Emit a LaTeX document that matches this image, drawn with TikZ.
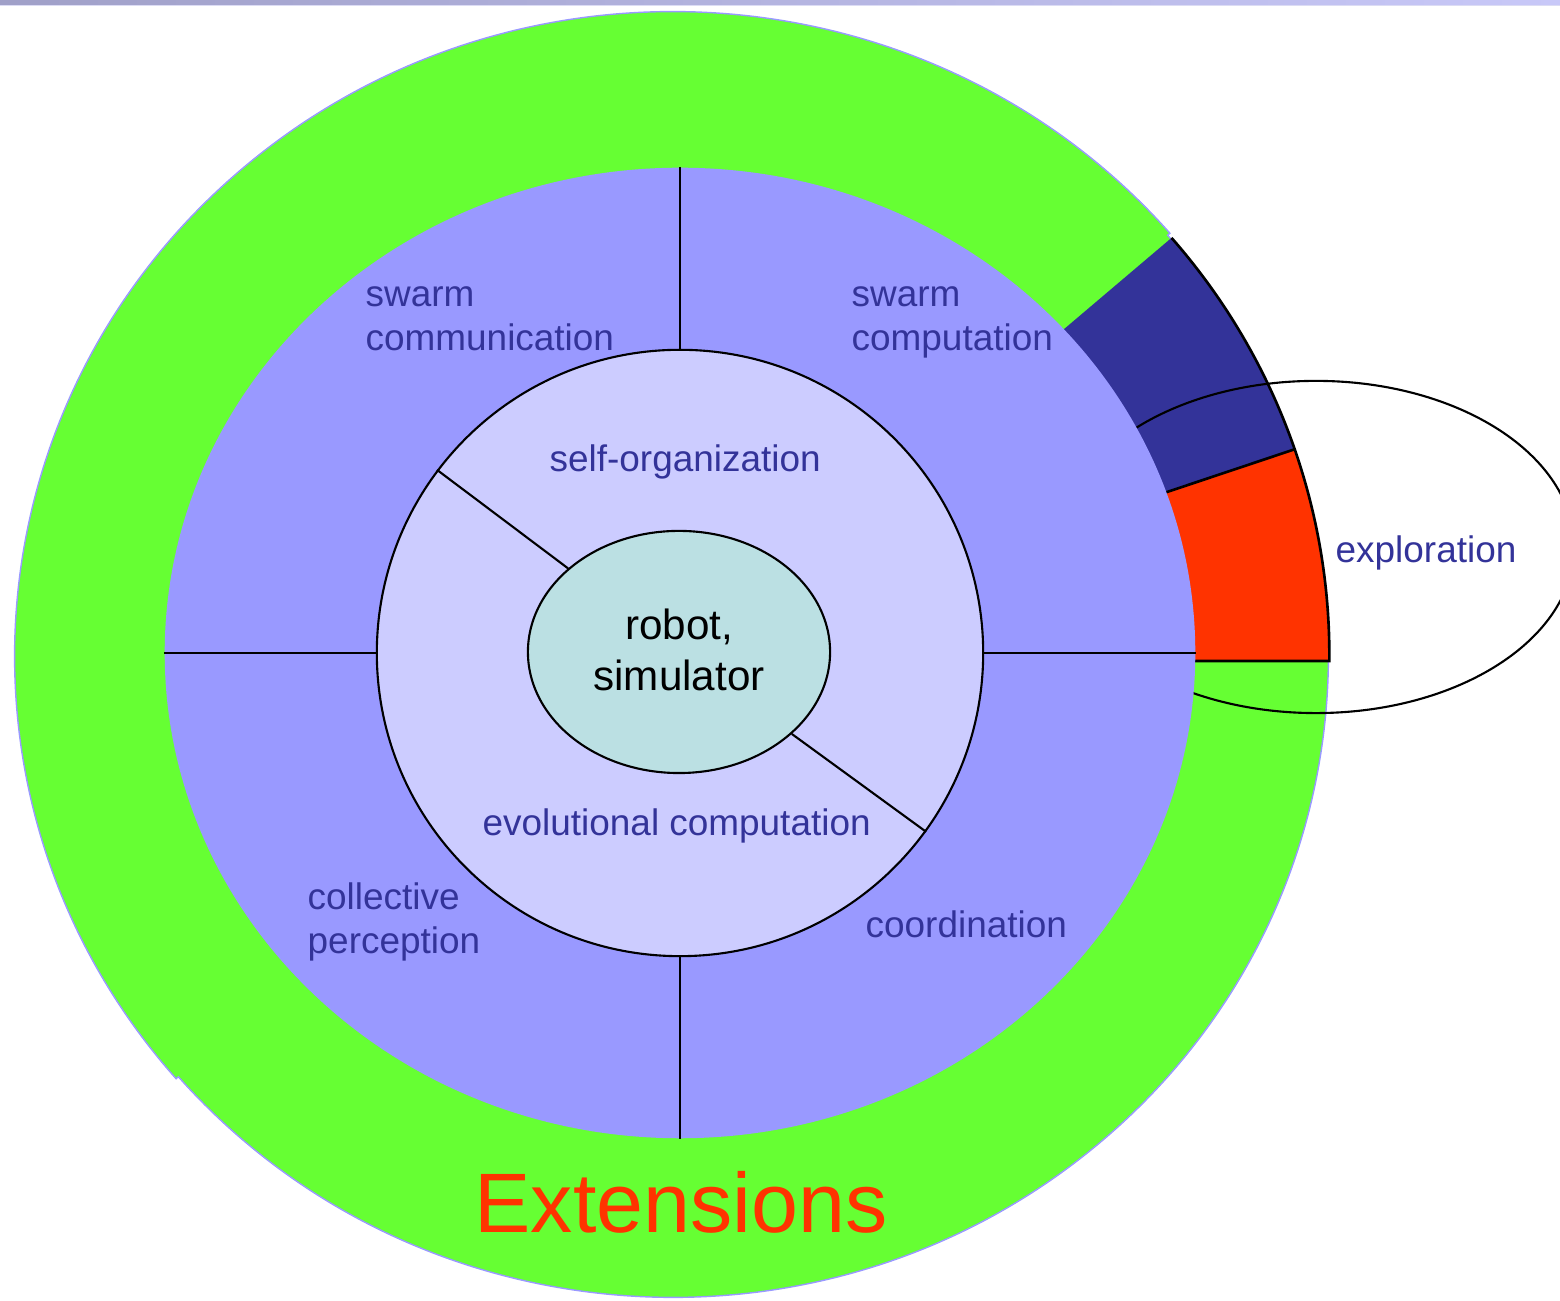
\documentclass[tikz,border=0pt]{standalone}
\usepackage{fontspec}
\setmainfont{Liberation Sans}
\usetikzlibrary{shapes.geometric,calc}
\definecolor{ringgreen}{HTML}{66FF33}
\definecolor{ringpurple}{HTML}{9999FF}
\definecolor{corelav}{HTML}{CCCCFF}
\definecolor{hubteal}{HTML}{BBE0E3}
\definecolor{navy}{HTML}{333399}
\definecolor{hot}{HTML}{FF3300}
\definecolor{barleft}{HTML}{A0A0C8}
\definecolor{barright}{HTML}{C8C8F8}
\definecolor{barline}{HTML}{DCDCF4}

\begin{document}
\begin{tikzpicture}[x=0.01cm, y=0.01cm,
  edge/.style={draw=black, line width=0.6pt},
  rim/.style={draw=black, line width=0.75pt},
  lbl/.style={text=navy, font=\fontsize{10.5}{12.5}\selectfont, inner sep=0pt, anchor=base west},
]
\useasboundingbox (0,0) rectangle (1560,1301);

% header bar
\shade[left color=barleft, right color=barright] (0,1296) rectangle (1560,1301);
\fill[barline] (0,1294.5) rectangle (1560,1296);

% outer green band (two arcs with a small step at lower left)
\coordinate (G) at (673,645);
\filldraw[fill=ringgreen, draw=ringpurple, line width=0.4pt]
  ($(G)+(41:6.58cm and 6.44cm)$) arc[start angle=41, end angle=221, x radius=6.58cm, y radius=6.44cm]
  -- ($(G)+(221:6.55cm and 6.41cm)$) arc[start angle=221, end angle=401, x radius=6.55cm, y radius=6.41cm]
  -- cycle;

% highlighted sectors on the right
\coordinate (S) at (680,646);
\coordinate (B) at (680,640);
\fill[navy] (S) -- ($(S)+(40.8:6.49cm and 6.38cm)$)
  arc[start angle=40.8, end angle=18.8, x radius=6.49cm, y radius=6.38cm] -- cycle;
\fill[hot] (S) -- ($(S)+(18.8:6.49cm and 6.38cm)$)
  arc[start angle=18.8, end angle=-0.54, x radius=6.49cm, y radius=6.38cm] -- (B) -- cycle;
\draw[rim] ($(S)+(40.8:6.49cm and 6.38cm)$)
  arc[start angle=40.8, end angle=-0.54, x radius=6.49cm, y radius=6.38cm] -- (B);
\draw[rim] (S) -- ($(S)+(18.8:6.49cm and 6.38cm)$);

% exploration bubble
\node[ellipse, draw, line width=0.6pt, minimum width=5.16cm, minimum height=3.32cm,
  inner sep=0pt] (expl) at (1316,754) {};

% middle ring
\node[ellipse, fill=ringpurple, minimum width=10.30cm, minimum height=9.70cm,
  inner sep=0pt] (ring) at (680,648) {};

% inner ring
\node[circle, fill=corelav, draw, line width=0.6pt, minimum size=6.06cm,
  inner sep=0pt] (core) at (680,648) {};

% dividers of the middle ring
\draw[edge] (ring.north) -- (core.north);
\draw[edge] (core.south) -- (ring.south);
\draw[edge] (ring.west) -- (core.west);
\draw[edge] (core.east) -- (ring.east);

% hub
\node[ellipse, fill=hubteal, draw, line width=0.6pt, minimum width=3.02cm,
  minimum height=2.42cm, inner sep=0pt,
  font=\fontsize{12}{14.3}\selectfont] (hub) at (679,649)
  {\raisebox{-0.03cm}[\height][\depth]{\begin{tabular}{@{}c@{}}robot,\\simulator\end{tabular}}};

% dividers of the inner ring
\draw[edge] (core.143.2) -- (hub.143.2);
\draw[edge] (core.-36.8) -- (hub.-36.8);

% labels
\node[lbl] (tcomm) at (365,994) {\begin{tabular}[t]{@{}l@{}}swarm\\communication\end{tabular}};
\node[lbl] (tcomp) at (851,994) {\begin{tabular}[t]{@{}l@{}}swarm\\computation\end{tabular}};
\node[lbl] (tself) at (549,829) {self-organization};
\node[lbl] (tevo) at (482,465) {evolutional computation};
\node[lbl] (tperc) at (307,391) {\begin{tabular}[t]{@{}l@{}}collective\\perception\end{tabular}};
\node[lbl] (tcoord) at (865,363) {coordination};
\node[lbl] (texpl) at (1335,738) {exploration};
\node[text=hot, font=\fontsize{24}{28}\selectfont, anchor=base, inner sep=0pt]
  (ext) at (681,68) {Extensions};
\end{tikzpicture}
\end{document}
